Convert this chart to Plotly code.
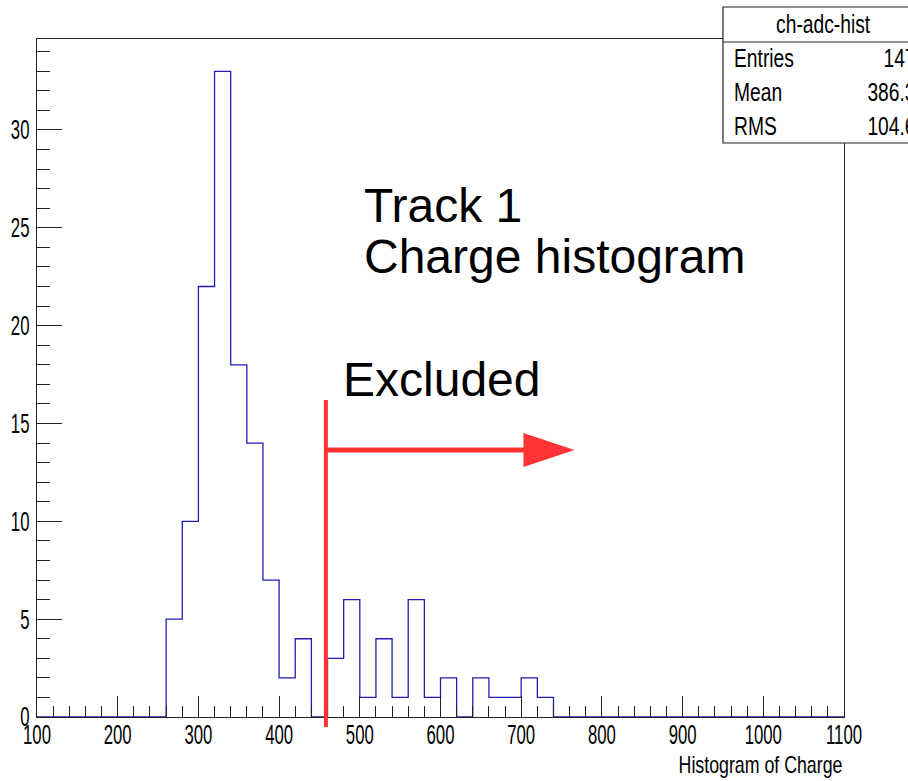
import plotly.graph_objects as go

# ---- histogram data: 50 bins of width 20 from 100 to 1100 ----
bin_low = list(range(100, 1100, 20))
counts = [0, 0, 0, 0, 0, 0, 0, 0,          # 100 - 260
          5, 10, 22, 33, 18, 14, 7, 2, 4,  # 260 - 440
          0, 3, 6, 1, 4, 1, 6, 1, 2,       # 440 - 620
          0, 2, 1, 1, 2, 1,                # 620 - 740
          0, 0, 0, 0, 0, 0, 0, 0, 0,       # 740 - 920
          0, 0, 0, 0, 0, 0, 0, 0, 0]       # 920 - 1100
bin_width = 20

x_ticks = list(range(100, 1101, 100))
y_ticks = list(range(0, 31, 5))

stats_title = "ch-adc-hist"
stats_names = ["Entries", "Mean", "RMS"]
stats_values = ["147", "386.3", "104.6"]

cut_value = 458          # charge threshold marking the excluded region
arrow_end = 766          # tip of the "Excluded" arrow (charge units)
arrow_level = 13.65      # height of the arrow (count units)
cut_top = 16.2           # top of the threshold line (count units)

X_MIN, X_MAX = 100, 1100
Y_MAX = 1.05 * max(counts)

# step outline: the line starts and ends at zero like a ROOT histogram
edges = bin_low + [bin_low[-1] + bin_width]
step_y = [0] + counts + [0]
step_x = [edges[0]] + edges

W, H = 908, 781
ML, MR, MT, MB = 37, 64, 39, 64
PW = W - ML - MR
PH = H - MT - MB


def xp(v):
    """charge value -> paper x"""
    return (v - X_MIN) / (X_MAX - X_MIN)


def yp(v):
    """count value -> paper y"""
    return v / Y_MAX


def pxx(p):
    """pixel column -> paper x"""
    return (p - ML) / PW


def pxy(p):
    """pixel row -> paper y"""
    return (H - MB - p) / PH


SANS = "Liberation Sans, Arial, sans-serif"
RED = "#ff3333"
FRAME = "#222222"
TICK_SQUEEZE = 0.62      # ROOT labels are drawn tall and narrow
TITLE_SQUEEZE = 0.74
STATS_SQUEEZE = 0.77

fig = go.Figure()
fig.add_trace(go.Scatter(
    x=step_x, y=step_y, mode="lines",
    line=dict(color="#1f1fb0", width=1.3, shape="hv"),
    hoverinfo="skip", showlegend=False,
))

axis_common = dict(
    showgrid=False, zeroline=False, showline=True, linecolor=FRAME,
    linewidth=1.2, mirror=True, ticks="inside", tickcolor=FRAME,
    tickwidth=1.2, automargin=False,
    tickfont=dict(family=SANS, size=27, color="black"),
)

fig.update_layout(
    width=W, height=H,
    margin=dict(l=ML, r=MR, t=MT, b=MB),
    paper_bgcolor="white", plot_bgcolor="white",
    xaxis=dict(range=[X_MIN, X_MAX], tickvals=x_ticks, ticklen=21,
               ticklabelstandoff=-7,
               minor=dict(dtick=20, ticklen=11, ticks="inside",
                          tickcolor=FRAME, tickwidth=1.2),
               **axis_common),
    yaxis=dict(range=[0, Y_MAX], tickvals=y_ticks, ticklen=25,
               ticklabelstandoff=1,
               minor=dict(dtick=1, ticklen=13, ticks="inside",
                          tickcolor=FRAME, tickwidth=1.2),
               **axis_common),
)

shapes = []
annotations = []
squeeze_map = {}         # annotation index -> horizontal squeeze factor

# ---- threshold line and arrow ----
shapes.append(dict(type="line", xref="paper", yref="paper",
                   x0=xp(cut_value), x1=xp(cut_value),
                   y0=pxy(727), y1=yp(cut_top),
                   line=dict(color=RED, width=4)))
head_len = 51 / PW          # arrow head length (paper units)
head_half = 17 / PH         # arrow head half height (paper units)
tip_x = xp(arrow_end)
ay = yp(arrow_level)
shapes.append(dict(type="line", xref="paper", yref="paper",
                   x0=xp(cut_value), x1=tip_x - head_len + 0.002,
                   y0=ay, y1=ay,
                   line=dict(color=RED, width=5)))
shapes.append(dict(type="path", xref="paper", yref="paper",
                   path=f"M {tip_x - head_len} {ay + head_half} L {tip_x} {ay} "
                        f"L {tip_x - head_len} {ay - head_half} Z",
                   fillcolor=RED, line=dict(color=RED, width=0)))

big_font = dict(family=SANS, size=48, color="black")
annotations.append(dict(text="Excluded", xref="paper", yref="paper",
                        x=pxx(341), y=pxy(379), xanchor="left", yanchor="middle",
                        showarrow=False, font=big_font))
annotations.append(dict(text="Track 1", xref="paper", yref="paper",
                        x=pxx(362), y=pxy(206), xanchor="left", yanchor="middle",
                        showarrow=False, font=big_font))
annotations.append(dict(text="Charge histogram", xref="paper", yref="paper",
                        x=pxx(362), y=pxy(256), xanchor="left", yanchor="middle",
                        showarrow=False, font=big_font))


def add_narrow(factor, size, **kw):
    squeeze_map[len(annotations)] = factor
    kw.setdefault("align", kw.get("xanchor", "center"))
    annotations.append(dict(xref="paper", yref="paper", showarrow=False,
                            yanchor="middle",
                            font=dict(family=SANS, size=size, color="black"), **kw))


# ---- axis title ----
add_narrow(TITLE_SQUEEZE, 24, text="Histogram of Charge", x=1.0, y=pxy(764),
           xanchor="right")

# ---- statistics box ----
box_l, box_r, box_t, box_b = 723, 919, 7, 143
row_h = (box_b - box_t) / 4
shapes.append(dict(type="rect", xref="paper", yref="paper",
                   x0=pxx(box_l), x1=pxx(box_r), y0=pxy(box_b), y1=pxy(box_t),
                   fillcolor="white", line=dict(color=FRAME, width=1.2), layer="above"))
shapes.append(dict(type="line", xref="paper", yref="paper",
                   x0=pxx(box_l), x1=pxx(box_r),
                   y0=pxy(box_t + row_h + 1), y1=pxy(box_t + row_h + 1),
                   line=dict(color=FRAME, width=1.2), layer="above"))
add_narrow(STATS_SQUEEZE, 25, text=stats_title, x=pxx((box_l + box_r) / 2 + 2),
           y=pxy(box_t + row_h / 2), xanchor="center")
for i, (name, val) in enumerate(zip(stats_names, stats_values)):
    cy = box_t + row_h * (i + 1) + row_h / 2
    add_narrow(STATS_SQUEEZE, 25, text=name, x=pxx(box_l + 9), y=pxy(cy), xanchor="left")
    add_narrow(STATS_SQUEEZE, 25, text=val, x=pxx(box_r - 1), y=pxy(cy), xanchor="right")

fig.update_layout(shapes=shapes, annotations=annotations)

# Compress the ROOT-style labels horizontally (SVG textLength keeps them as text).
squeeze_js = """
var gd = document.getElementById('{plot_id}');
function squeeze(el, f) {
  if (el.getAttribute('data-sq')) return;
  var w = el.getComputedTextLength();
  if (w > 0) {
    el.setAttribute('textLength', (w * f).toFixed(2));
    el.setAttribute('lengthAdjust', 'spacingAndGlyphs');
    el.setAttribute('data-sq', '1');
  }
}
var factors = %MAP%;
gd.querySelectorAll('g.xtick text, g.ytick text').forEach(function (t) { squeeze(t, %TICK%); });
Object.keys(factors).forEach(function (i) {
  gd.querySelectorAll('g.annotation[data-index="' + i + '"] text').forEach(function (t) {
    squeeze(t, factors[i]);
  });
});
""".replace("%TICK%", str(TICK_SQUEEZE)).replace(
    "%MAP%", "{" + ",".join(f'"{k}": {v}' for k, v in squeeze_map.items()) + "}")

fig.write_html("out.html", post_script=squeeze_js)
